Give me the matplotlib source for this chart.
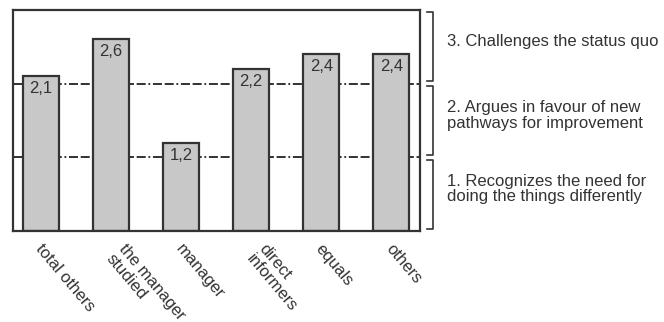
import numpy as np
import matplotlib
matplotlib.use("Agg")
from matplotlib import pyplot as plt
from matplotlib import transforms

# data
categories = ["total others", "the manager\nstudied", "manager",
              "direct\ninformers", "equals", "others"]
values = [2.1, 2.6, 1.2, 2.2, 2.4, 2.4]
value_labels = ["2,1", "2,6", "1,2", "2,2", "2,4", "2,4"]
levels = [1, 2, 3]
level_texts = ["1. Recognizes the need for\ndoing the things differently",
               "2. Argues in favour of new\npathways for improvement",
               "3. Challenges the status quo"]

plt.rcParams['font.family'] = ['Liberation Sans', 'DejaVu Sans']
dark = '#333333'

fig = plt.figure(figsize=(6.64, 3.22), dpi=100)
ax = fig.add_axes([13/664, 1 - 231/322, 407/664, 221/322])

x = np.arange(len(categories))

# dashed level lines behind the bars
for lv in levels[:-1]:
    ax.axhline(lv, color='#222222', lw=1.3, ls=(0, (5, 1.5, 5, 1.5, 1, 1.5)), zorder=1)

ax.bar(x, values, width=0.52, color='#c8c8c8', edgecolor=dark, linewidth=1.6, zorder=2)

for xi, v, lab in zip(x, values, value_labels):
    ax.annotate(lab, (xi, v), xytext=(0, -5), textcoords='offset pixels',
                ha='center', va='top', fontsize=12, color=dark, zorder=3)

ax.set_xlim(-0.4, 5.41)
ax.set_ylim(0, 3)
ax.set_xticks([])
ax.set_yticks([])
for sp in ax.spines.values():
    sp.set_color(dark)
    sp.set_linewidth(1.6)

# rotated category labels
for xi, cat in zip(x, categories):
    nlines = cat.count('\n') + 1
    ax.annotate(cat, (xi, 0), xytext=(3 + 13 * (nlines - 1), -10),
                textcoords='offset pixels', rotation=-50, rotation_mode='anchor',
                ha='left', va='top', fontsize=12, color=dark, linespacing=1.05,
                annotation_clip=False)

# brackets on the right
tr = transforms.blended_transform_factory(ax.transAxes, ax.transData)
x_in, x_out = 1.018, 1.032
for lv, txt in zip(levels, level_texts):
    lo, hi = lv - 1 + 0.03, lv - 0.03
    ax.plot([x_in, x_out, x_out, x_in], [hi, hi, lo, lo], color=dark, lw=1.2,
            transform=tr, clip_on=False)
    ax.text(1.066, lv - 0.5 + 0.07, txt, transform=tr, ha='left', va='center',
            fontsize=12, color=dark, linespacing=1.05)

fig.savefig("out.png", dpi=100)
